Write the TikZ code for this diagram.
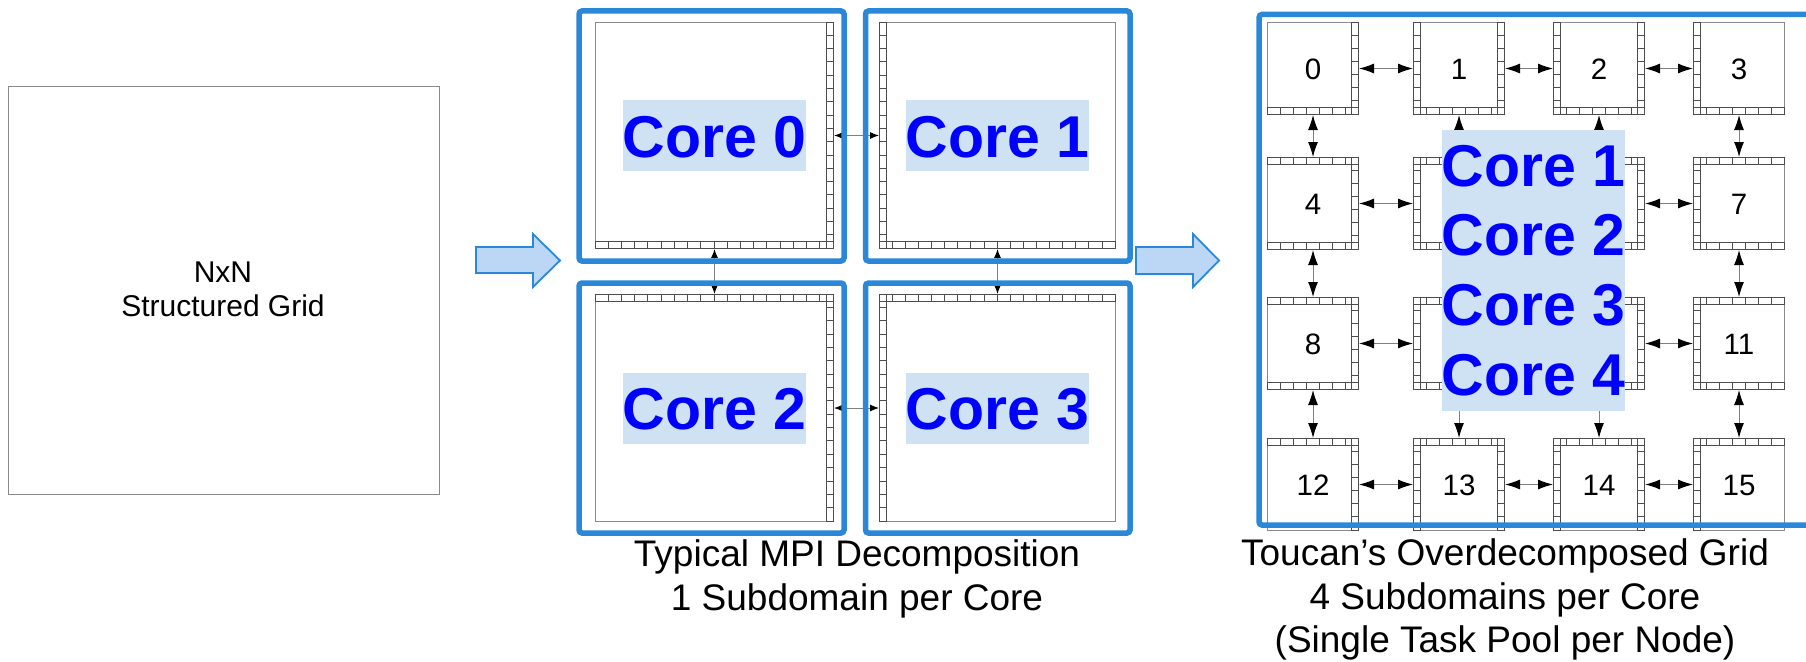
\documentclass[tikz,border=0pt]{standalone}
\usepackage{fontspec}
\setmainfont{Liberation Sans}
\usetikzlibrary{arrows.meta}

\definecolor{frameblue}{HTML}{2B88D8}
\definecolor{arrowfill}{HTML}{BBD7F5}
\definecolor{labelfill}{HTML}{CFE2F3}
\definecolor{coreblue}{HTML}{0000FF}
\definecolor{boxgray}{HTML}{8A8A8A}
\definecolor{cellgray}{HTML}{4D4D4D}
\definecolor{linkgray}{HTML}{808080}

\tikzset{
  subdom/.style={draw=boxgray, line width=1pt, fill=white, inner sep=0pt, anchor=north west},
  cellline/.style={draw=cellgray, line width=0.8pt},
  coreframe/.style={draw=frameblue, line width=5.5pt, rounded corners=3pt},
  bigarrow/.style={fill=arrowfill, draw=frameblue, line width=1.8pt},
  mlink/.style={draw=linkgray, line width=1pt,
    {Latex[length=9pt,width=7pt,color=black]}-{Latex[length=9pt,width=7pt,color=black]}},
  glink/.style={draw=linkgray, line width=1pt,
    {Latex[length=15pt,width=10pt,color=black]}-{Latex[length=15pt,width=10pt,color=black]}},
  coretext/.style={font=\fontsize{59}{59}\selectfont\bfseries, text=coreblue, inner sep=0pt},
  corelabel/.style={coretext, fill=labelfill, text height=43pt, text depth=0pt,
    minimum width=183pt, minimum height=71pt},
  digit/.style={font=\fontsize{29.5}{29.5}\selectfont, inner sep=0pt, text height=21pt, text depth=0pt},
  plaintext/.style={font=\fontsize{30}{30}\selectfont, inner sep=0pt, anchor=base},
  capt/.style={font=\fontsize{37}{37}\selectfont, inner sep=0pt, anchor=base},
}

% ghost-cell strips: left x, top y, length, thickness, number of cells
\newcommand\hcells[5]{%
  \draw[cellline] (#1,#2) rectangle ++(#3,#4);
  \foreach \i in {1,...,#5} {\draw[cellline] ({#1+\i*(#3)/(#5)},#2) -- ++(0,#4);}%
}
\newcommand\vcells[5]{%
  \draw[cellline] (#1,#2) rectangle ++(#4,#3);
  \foreach \i in {1,...,#5} {\draw[cellline] (#1,{#2+\i*(#3)/(#5)}) -- ++(#4,0);}%
}

\begin{document}
\begin{tikzpicture}[x=1pt, y=-1pt]
\useasboundingbox (0,0) rectangle (1806,661);
\clip (0,0) rectangle (1806,661);
\fill[white] (0,0) rectangle (1806,661);

% whole domain
\node[subdom, minimum width=431pt, minimum height=408pt, line width=1.3pt] (whole) at (7.7,86) {};
\node[plaintext] (nxn) at (223,282.7) {NxN};
\node[plaintext] (sgrid) at (223,316.7) {Structured Grid};

% transition arrows
\draw[bigarrow] (476,247) -- (533,247) -- (533,234) -- (560,260.5) -- (533,287) -- (533,273) -- (476,273) -- cycle;
\draw[bigarrow] (1136,247) -- (1193,247) -- (1193,234) -- (1219,260.5) -- (1193,287) -- (1193,274) -- (1136,274) -- cycle;

% MPI decomposition: one subdomain per core
\node[subdom, minimum width=238pt, minimum height=226pt] (c0) at (595,22) {};
\node[subdom, minimum width=236pt, minimum height=226pt] (c1) at (879,22) {};
\node[subdom, minimum width=238pt, minimum height=227pt] (c2) at (595,294) {};
\node[subdom, minimum width=236pt, minimum height=227pt] (c3) at (879,294) {};
\vcells{826}{22}{226}{7}{17}  \hcells{595}{241}{238}{7}{18}
\vcells{879}{22}{226}{7}{17}  \hcells{879}{241}{236}{7}{18}
\hcells{595}{294}{238}{7}{18} \vcells{826}{294}{227}{7}{17}
\hcells{879}{294}{236}{7}{18} \vcells{879}{294}{227}{7}{17}

\draw[mlink] (c0.east) -- (c1.west);
\draw[mlink] (c2.east) -- (c3.west);
\draw[mlink] (c0.south) -- (c2.north);
\draw[mlink] (c1.south) -- (c3.north);

\draw[coreframe] (579,11) rectangle (844,261);
\draw[coreframe] (865.5,11) rectangle (1130,261);
\draw[coreframe] (579,283) rectangle (844,533);
\draw[coreframe] (865.5,283) rectangle (1130,533);

\node[corelabel] (l0) at (c0.center) {Core 0};
\node[corelabel] (l1) at (c1.center) {Core 1};
\node[corelabel] (l2) at (c2.center) {Core 2};
\node[corelabel] (l3) at (c3.center) {Core 3};

% overdecomposed grid: 4x4 subdomains
\foreach \row/\yy in {0/22,1/157,2/297,3/438} {
  \foreach \col/\xx in {0/1267,1/1413,2/1553,3/1693} {
    \pgfmathtruncatemacro\k{4*\row+\col}
    \node[subdom, minimum width=91pt, minimum height=92pt] (b\k) at (\xx,\yy) {};
    \ifnum\row>0 \hcells{\xx}{\yy}{91}{7}{7}\fi
    \ifnum\row<3 \hcells{\xx}{\yy+85}{91}{7}{7}\fi
    \ifnum\col>0 \vcells{\xx}{\yy}{92}{7}{7}\fi
    \ifnum\col<3 \vcells{\xx+84}{\yy}{92}{7}{7}\fi
  }
}
\foreach \k in {0,1,2,3,4,7,8,11,12,13,14,15} {
  \node[digit] (d\k) at (b\k.center) {\k};
}

% halo exchanges between neighbouring subdomains
\foreach \na/\nb in {0/1,1/2,2/3,4/5,6/7,8/9,10/11,12/13,13/14,14/15} {
  \draw[glink] (b\na.east) -- (b\nb.west);
}
\foreach \na/\nb in {0/4,1/5,2/6,3/7,4/8,7/11,8/12,9/13,10/14,11/15} {
  \draw[glink] (b\na.south) -- (b\nb.north);
}

% shared task pool of the node
\node[fill=labelfill, inner sep=0pt, minimum width=183pt, minimum height=281pt] (pool) at (1533.5,270.5) {};
\node[coretext, anchor=base] (p1) at (1533.5,186) {Core 1};
\node[coretext, anchor=base] (p2) at (1533.5,255.7) {Core 2};
\node[coretext, anchor=base] (p3) at (1533.5,325.3) {Core 3};
\node[coretext, anchor=base] (p4) at (1533.5,395) {Core 4};

\draw[coreframe] (1259,14.5) rectangle (1850,525);

% captions
\node[capt] (cap1) at (857,566) {Typical MPI Decomposition};
\node[capt] (cap2) at (857,610) {1 Subdomain per Core};
\node[capt] (cap3) at (1505,565) {Toucan’s Overdecomposed Grid};
\node[capt] (cap4) at (1505,609) {4 Subdomains per Core};
\node[capt] (cap5) at (1505,652) {(Single Task Pool per Node)};
\end{tikzpicture}
\end{document}
